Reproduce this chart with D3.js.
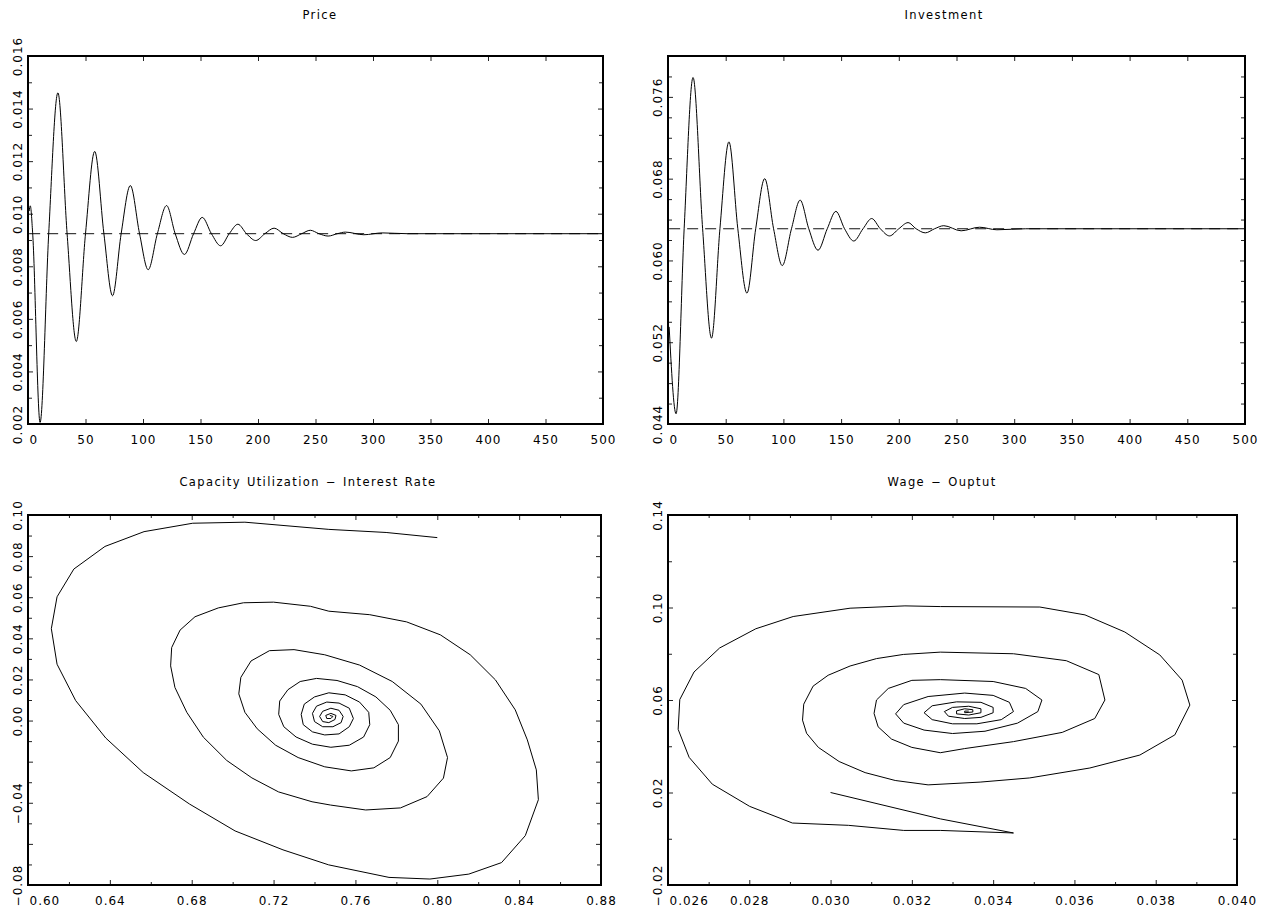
<!DOCTYPE html>
<html>
<head>
<meta charset="utf-8">
<script src="https://cdn.jsdelivr.net/npm/d3@7"></script>
<style>
  body { margin: 0; background: #fff; }
  svg { display: block; }
  .tick text, .lbl text { font-family: "DejaVu Sans", sans-serif; font-size: 12px; letter-spacing: 1px; fill: #000; }
  .title { font-family: "DejaVu Sans", sans-serif; font-size: 11.5px; letter-spacing: 1.4px; word-spacing: 1px; fill: #000; }
</style>
</head>
<body>
<div id="chart"></div>
<script>
// ---- Price (time series) ----
var priceT = [1, 2, 4, 10.5, 18, 26, 34, 42, 50, 58, 66, 73.5, 81, 89, 97, 104.5, 112.5, 120.5, 128, 136, 144, 151.5, 159.5, 167.5, 175, 182.5, 190, 198, 206, 214, 222, 230, 238, 245.5, 253, 261, 269, 276, 292, 308, 330, 500];
var priceV = [0.0101, 0.0103, 0.0093, 0.00206, 0.00924, 0.0146, 0.00924, 0.00514, 0.00924, 0.01237, 0.00924, 0.00688, 0.00924, 0.01107, 0.00924, 0.00787, 0.00924, 0.01031, 0.00924, 0.00845, 0.00924, 0.00986, 0.00924, 0.00878, 0.00924, 0.0096, 0.00924, 0.00898, 0.00924, 0.00945, 0.00924, 0.0091, 0.00924, 0.00937, 0.00924, 0.00915, 0.00924, 0.0093, 0.0092, 0.00927, 0.00924, 0.00924];
var priceMean = 0.00924;

// ---- Investment ----
var invT = [1, 7, 14, 21.7, 30, 37.7, 45, 52.8, 60.5, 68.4, 76, 83.8, 91.5, 99, 107, 114.5, 122, 130, 138, 145.5, 153, 161, 169, 176.5, 184, 192, 200, 208, 215, 223, 231, 239, 254, 270, 285, 310, 500];
var invV = [0.0535, 0.0450, 0.0631, 0.0779, 0.0631, 0.0524, 0.0631, 0.0716, 0.0631, 0.0568, 0.0631, 0.0680, 0.0631, 0.0595, 0.0631, 0.0659, 0.0631, 0.0610, 0.0631, 0.0648, 0.0631, 0.0619, 0.0631, 0.0641, 0.0631, 0.0624, 0.0631, 0.0637, 0.0631, 0.0627, 0.0631, 0.0634, 0.0629, 0.06325, 0.0630, 0.0631, 0.0631];
var invMean = 0.0631;

// ---- Capacity Utilization - Interest Rate (phase path) ----
var capU = [0.800, 0.775, 0.747, 0.706, 0.6805, 0.6567, 0.6376, 0.6224, 0.6142, 0.6114, 0.6142, 0.6233, 0.638, 0.6563, 0.6789, 0.7012, 0.7246, 0.7469, 0.7764, 0.7964, 0.8154, 0.8314, 0.843, 0.8494, 0.8484, 0.844, 0.8381, 0.8284, 0.8161, 0.8015, 0.785, 0.767, 0.747,
  0.738, 0.72, 0.7053, 0.693, 0.6816, 0.6743, 0.6702, 0.6697, 0.6718, 0.6776, 0.6857, 0.6971, 0.7094, 0.7224, 0.7388, 0.7478, 0.765, 0.782, 0.795, 0.803, 0.805, 0.801, 0.792, 0.778, 0.762, 0.745, 0.73,
  0.718, 0.709, 0.704, 0.703, 0.706, 0.712, 0.721, 0.732, 0.745, 0.758, 0.769, 0.777, 0.781, 0.781, 0.777, 0.77, 0.761, 0.751, 0.741, 0.733,
  0.727, 0.723, 0.7225, 0.725, 0.731, 0.739, 0.748, 0.757, 0.764, 0.767, 0.7665, 0.762, 0.755, 0.747, 0.740,
  0.735, 0.7335, 0.7345, 0.739, 0.745, 0.752, 0.757, 0.759, 0.757, 0.752, 0.746, 0.741,
  0.739, 0.740, 0.744, 0.749, 0.753, 0.754, 0.752, 0.748, 0.744,
  0.7425, 0.744, 0.747, 0.750, 0.7505, 0.748, 0.7455, 0.746, 0.748, 0.749, 0.7475];
var intRate = [0.089, 0.0915, 0.093, 0.0965, 0.096, 0.0919, 0.0847, 0.0737, 0.0602, 0.0447, 0.0274, 0.0097, -0.0085, -0.0253, -0.0406, -0.0537, -0.0629, -0.0702, -0.0763, -0.0771, -0.0747, -0.0691, -0.056, -0.0385, -0.024, -0.0094, 0.0052, 0.0198, 0.032, 0.0417, 0.048, 0.0515, 0.0532,
  0.0556, 0.0576, 0.0573, 0.0548, 0.0505, 0.044, 0.0355, 0.0266, 0.0161, 0.004, -0.0081, -0.0194, -0.0279, -0.0347, -0.0395, -0.0411, -0.0435, -0.0425, -0.037, -0.028, -0.018, -0.005, 0.008, 0.019, 0.027, 0.032, 0.0345,
  0.034, 0.029, 0.021, 0.013, 0.004, -0.004, -0.012, -0.018, -0.0225, -0.0245, -0.023, -0.018, -0.01, -0.002, 0.005, 0.0115, 0.0165, 0.0195, 0.0205, 0.019,
  0.015, 0.0095, 0.003, -0.003, -0.008, -0.0115, -0.013, -0.012, -0.008, -0.002, 0.004, 0.009, 0.0125, 0.0135, 0.0115,
  0.008, 0.003, -0.002, -0.0055, -0.007, -0.0065, -0.003, 0.001, 0.006, 0.0085, 0.009, 0.007,
  0.0035, -0.0005, -0.003, -0.003, -0.001, 0.002, 0.005, 0.006, 0.0045,
  0.002, -0.0005, -0.001, 0.0005, 0.0025, 0.0035, 0.0025, 0.001, 0.001, 0.002, 0.0025];

// ---- Wage - Output (phase path) ----
var wage = [0.0300, 0.0327, 0.0345, 0.0327, 0.0318, 0.03044, 0.02906, 0.02801, 0.02709, 0.02652, 0.02625, 0.02629, 0.02664, 0.02727, 0.02816, 0.02908, 0.03048, 0.03183, 0.0327, 0.03515, 0.03626, 0.03724, 0.0381, 0.03865, 0.03884, 0.03847, 0.03761, 0.03638, 0.0349, 0.03368, 0.0324,
  0.03159, 0.03085, 0.03021, 0.0297, 0.02941, 0.02931, 0.02934, 0.02957, 0.02994, 0.03048, 0.03113, 0.03179, 0.0327, 0.0345, 0.0358, 0.0366, 0.03675, 0.0365, 0.0357, 0.0345, 0.0333,
  0.0327, 0.032, 0.0315, 0.03117, 0.03107, 0.03113, 0.03142, 0.032, 0.0327, 0.0340, 0.0348, 0.0352, 0.0351, 0.0346, 0.0338, 0.0330,
  0.0323, 0.0318, 0.0316, 0.0318, 0.0324, 0.0333, 0.0340, 0.0344, 0.0345, 0.0342, 0.0336, 0.0330,
  0.0325, 0.0323, 0.0325, 0.0331, 0.0337, 0.0340, 0.0340, 0.0337, 0.0333,
  0.0329, 0.0328, 0.0330, 0.0334, 0.0337, 0.0337, 0.0334, 0.0331,
  0.0331, 0.0333, 0.0335, 0.0335, 0.0333, 0.0333, 0.0334];
var output = [0.020, 0.0086, 0.0025, 0.0036, 0.0036, 0.0058, 0.0068, 0.014, 0.0236, 0.0352, 0.0473, 0.0602, 0.0721, 0.0825, 0.0908, 0.0961, 0.0997, 0.1007, 0.1004, 0.1002, 0.0968, 0.0894, 0.0795, 0.0686, 0.0578, 0.0449, 0.0362, 0.0306, 0.0263, 0.0245, 0.0233,
  0.0252, 0.0286, 0.0334, 0.0395, 0.0456, 0.0513, 0.0582, 0.066, 0.0707, 0.0747, 0.0779, 0.0797, 0.0807, 0.080, 0.077, 0.071, 0.060, 0.052, 0.046, 0.042, 0.039,
  0.0372, 0.0395, 0.0431, 0.0484, 0.0542, 0.060, 0.065, 0.0685, 0.0688, 0.0680, 0.065, 0.060, 0.055, 0.050, 0.0465, 0.0455,
  0.047, 0.050, 0.054, 0.058, 0.0615, 0.063, 0.062, 0.059, 0.055, 0.0515, 0.0497, 0.0497,
  0.0515, 0.0545, 0.0575, 0.0592, 0.059, 0.0568, 0.0545, 0.0525, 0.052,
  0.053, 0.055, 0.0568, 0.0573, 0.0562, 0.0545, 0.0535, 0.054,
  0.0553, 0.0562, 0.0558, 0.0548, 0.0545, 0.0552, 0.0552];

// ---- ticks ----
var timeTicks = [0, 50, 100, 150, 200, 250, 300, 350, 400, 450, 500];
var priceTicks = d3.range(0.002, 0.01651, 0.001);
var priceMajor = [0.002, 0.004, 0.006, 0.008, 0.010, 0.012, 0.014, 0.016];
var invTicks = d3.range(0.044, 0.08001, 0.002);
var invMajor = [0.044, 0.052, 0.060, 0.068, 0.076];
var capXTicks = d3.range(0.60, 0.8801, 0.02);
var capXMajor = [0.60, 0.64, 0.68, 0.72, 0.76, 0.80, 0.84, 0.88];
var capYTicks = d3.range(-0.08, 0.1001, 0.01);
var capYMajor = [-0.08, -0.06, -0.04, -0.02, 0.00, 0.02, 0.04, 0.06, 0.08, 0.10];
var capYLabels = [-0.08, -0.04, 0.00, 0.02, 0.04, 0.06, 0.08, 0.10];
var wageXTicks = d3.range(0.026, 0.04001, 0.001);
var wageXMajor = [0.026, 0.028, 0.030, 0.032, 0.034, 0.036, 0.038, 0.040];
var wageYTicks = [-0.02, 0.00, 0.02, 0.04, 0.06, 0.08, 0.10, 0.12, 0.14];
var wageYMajor = [-0.02, 0.02, 0.06, 0.10, 0.14];

var svg = d3.select("#chart").append("svg").attr("width", 1266).attr("height", 911);

function inList(v, list) {
  return list.some(function(l) { return Math.abs(l - v) < 1e-9; });
}

function panel(p) {
  var g = svg.append("g");
  var x = d3.scaleLinear().domain(p.xDomain).range([p.x0, p.x1]);
  var y = d3.scaleLinear().domain(p.yDomain).range([p.y1, p.y0]);

  var xMaj = p.xTicks.filter(function(v) { return inList(v, p.xMajor); });
  var xMin = p.xTicks.filter(function(v) { return !inList(v, p.xMajor); });
  var yMaj = p.yTicks.filter(function(v) { return inList(v, p.yMajor); });
  var yMin = p.yTicks.filter(function(v) { return !inList(v, p.yMajor); });

  function ticks(axis, vals, len, tr) {
    var a = g.append("g").attr("transform", tr)
      .call(axis.tickValues(vals).tickSizeInner(-len).tickSizeOuter(0).tickFormat(""));
    a.select(".domain").remove();
    a.selectAll("line").attr("stroke", "#222");
  }
  ticks(d3.axisBottom(x), xMaj, 5, "translate(0," + p.y1 + ")");
  ticks(d3.axisBottom(x), xMin, 3, "translate(0," + p.y1 + ")");
  ticks(d3.axisTop(x), xMaj, 5, "translate(0," + p.y0 + ")");
  ticks(d3.axisTop(x), xMin, 3, "translate(0," + p.y0 + ")");
  ticks(d3.axisLeft(y), yMaj, 5, "translate(" + p.x0 + ",0)");
  ticks(d3.axisLeft(y), yMin, 4, "translate(" + p.x0 + ",0)");
  ticks(d3.axisRight(y), yMaj, 5, "translate(" + p.x1 + ",0)");
  ticks(d3.axisRight(y), yMin, 4, "translate(" + p.x1 + ",0)");

  // x labels, first one pushed inside the frame
  var xl = g.append("g").attr("class", "lbl").attr("transform", "translate(0," + p.y1 + ")")
    .call(d3.axisBottom(x).tickValues(p.xLabels || p.xMajor).tickSize(0).tickPadding(11.5).tickFormat(d3.format(p.xFmt)));
  xl.select(".domain").remove();
  xl.selectAll("text").filter(function(d, i) { return i === 0; })
    .attr("text-anchor", "start").attr("x", 1);

  // y labels, rotated
  var yl = g.append("g").attr("class", "lbl").attr("transform", "translate(" + p.x0 + ",0)")
    .call(d3.axisLeft(y).tickValues(p.yLabels || p.yMajor).tickSize(0).tickFormat(d3.format(p.yFmt)));
  yl.select(".domain").remove();
  yl.selectAll("text").attr("x", null).attr("dy", null)
    .attr("text-anchor", "middle")
    .attr("transform", "translate(-6,0) rotate(-90)");

  // frame
  g.append("rect").attr("x", p.x0).attr("y", p.y0)
    .attr("width", p.x1 - p.x0).attr("height", p.y1 - p.y0)
    .attr("fill", "none").attr("stroke", "#000").attr("stroke-width", 2);

  g.append("text").attr("class", "title").attr("x", p.titleX).attr("y", p.titleY)
    .attr("text-anchor", "middle").text(p.title);

  return { g: g, x: x, y: y };
}

function meanLine(pn, v) {
  pn.g.append("path").datum([1, 500])
    .attr("d", d3.line().x(function(d) { return pn.x(d); }).y(function() { return pn.y(v); }))
    .attr("fill", "none").attr("stroke", "#111").attr("stroke-dasharray", "11,7");
}

function series(pn, xs, ys, curve) {
  pn.g.append("path").datum(d3.zip(xs, ys))
    .attr("d", d3.line().curve(curve).x(function(d) { return pn.x(d[0]); }).y(function(d) { return pn.y(d[1]); }))
    .attr("fill", "none").attr("stroke", "#000").attr("stroke-width", 1);
}

// Price
var pp = panel({ x0: 28, x1: 603, y0: 56, y1: 424, xDomain: [0, 500], yDomain: [0.002, 0.016],
  xTicks: timeTicks, xMajor: timeTicks, xFmt: "d",
  yTicks: priceTicks, yMajor: priceMajor, yFmt: ".3f",
  title: "Price", titleX: 320, titleY: 19 });
meanLine(pp, priceMean);
series(pp, priceT, priceV, d3.curveMonotoneX);

// Investment
var ip = panel({ x0: 668, x1: 1245, y0: 56, y1: 424, xDomain: [0, 500], yDomain: [0.044, 0.080],
  xTicks: timeTicks, xMajor: timeTicks, xFmt: "d",
  yTicks: invTicks, yMajor: invMajor, yFmt: ".3f",
  title: "Investment", titleX: 944, titleY: 19 });
meanLine(ip, invMean);
series(ip, invT, invV, d3.curveMonotoneX);

// Capacity Utilization - Interest Rate
var cp = panel({ x0: 28, x1: 601, y0: 515, y1: 885, xDomain: [0.60, 0.88], yDomain: [-0.08, 0.10],
  xTicks: capXTicks, xMajor: capXMajor, xFmt: ".2f",
  yTicks: capYTicks, yMajor: capYMajor, yLabels: capYLabels, yFmt: ".2f",
  title: "Capacity Utilization \u2212 Interest Rate", titleX: 308, titleY: 486 });
series(cp, capU, intRate, d3.curveLinear);

// Wage - Output
var wp = panel({ x0: 668, x1: 1237, y0: 515, y1: 885, xDomain: [0.026, 0.040], yDomain: [-0.02, 0.14],
  xTicks: wageXTicks, xMajor: wageXMajor, xFmt: ".3f",
  yTicks: wageYTicks, yMajor: wageYMajor, yFmt: ".2f",
  title: "Wage \u2212 Ouptut", titleX: 942, titleY: 486 });
series(wp, wage, output, d3.curveLinear);
</script>
</body>
</html>
